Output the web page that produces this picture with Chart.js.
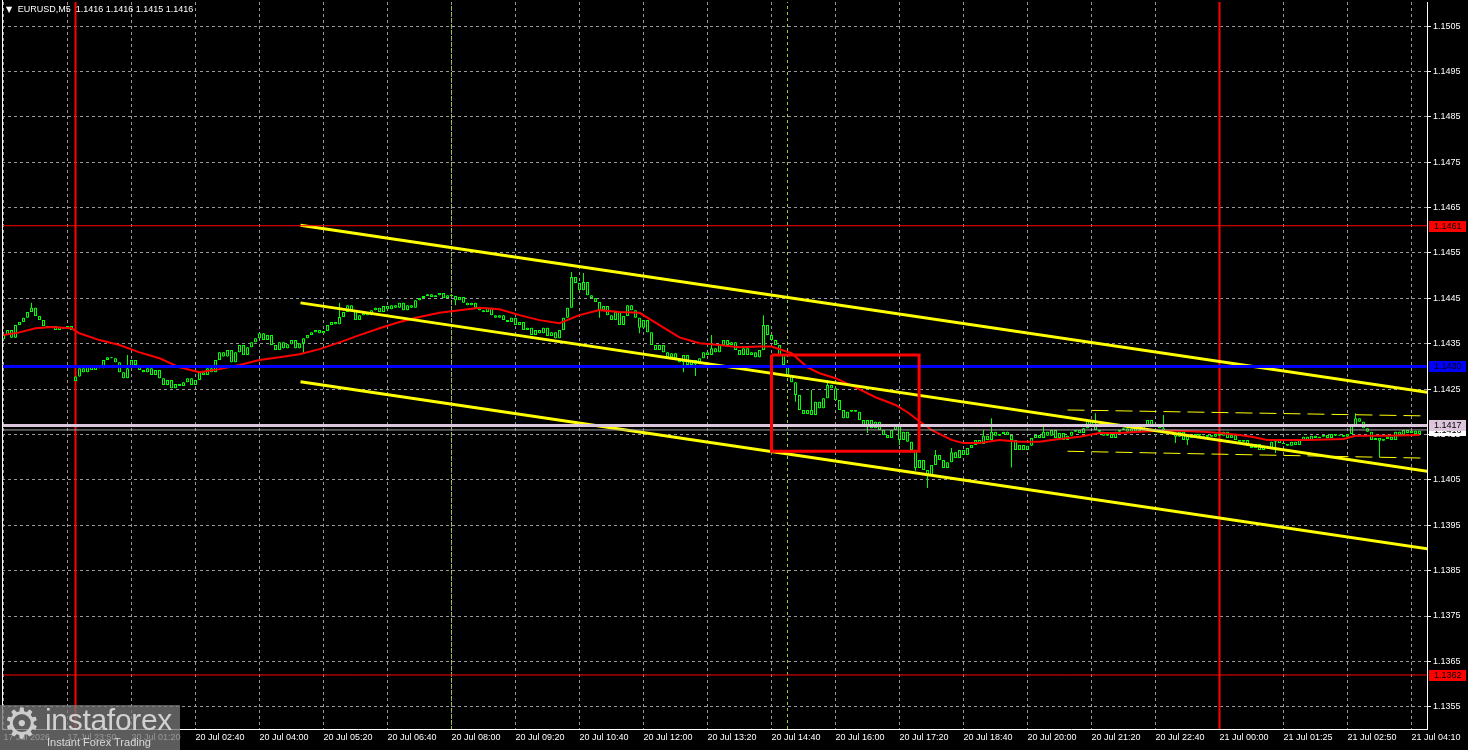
<!DOCTYPE html>
<html>
<head>
<meta charset="utf-8">
<script src="https://cdn.jsdelivr.net/npm/chart.js@4.4.0/dist/chart.umd.min.js"></script>
<style>
html, body { margin: 0; padding: 0; background: #000; overflow: hidden; }
#wrap { position: relative; width: 1468px; height: 750px; }
#header { position: absolute; left: 6px; top: 4px; color: #fff; font: 9px "Liberation Sans", Arial, sans-serif; white-space: pre; }
#header .tri { font: 8px "DejaVu Sans", sans-serif; margin-right: 3px; }
#logo { position: absolute; left: 0; top: 705px; width: 180px; height: 45px; background: rgba(118,118,118,0.78); overflow: hidden; }
#logo .gear { position: absolute; left: 3px; top: -6px; font: 42px "DejaVu Sans", sans-serif; color: rgba(225,225,225,0.85); }
#logo .brand { position: absolute; left: 45px; top: -2px; font: 30px "Liberation Sans", Arial, sans-serif; color: rgba(222,222,222,0.9); letter-spacing: -0.3px; }
#logo .tag { position: absolute; left: 47px; top: 31px; font: 11px "Liberation Sans", Arial, sans-serif; color: rgba(230,230,230,0.9); }
</style>
</head>
<body>
<div id="wrap">
  <canvas id="chart" width="1468" height="750"></canvas>
  <div id="header"><span class="tri">▼</span> EURUSD,M5  1.1416 1.1416 1.1415 1.1416</div>
  <div id="logo"><span class="gear">⚙</span><span class="brand">instaforex</span><span class="tag">Instant Forex Trading</span></div>
</div>
<script>
// M5 closes, bar 0 = 17 Jul 22:30
const closes = [
  1.14369, 1.14380, 1.14363, 1.14391, 1.14398, 1.14407, 1.14420, 1.14429, 1.14411, 1.14402, 1.14389, 1.14385, 1.14389, 1.14380, 1.14387, 1.14383, 1.14389, 1.14380,
  1.14278, 1.14296, 1.14287, 1.14301, 1.14292, 1.14303, 1.14296, 1.14314, 1.14320, 1.14318, 1.14309, 1.14287, 1.14274, 1.14296, 1.14314,
  1.14303, 1.14292, 1.14287, 1.14296, 1.14281, 1.14292, 1.14274, 1.14259, 1.14270, 1.14252, 1.14261, 1.14257, 1.14265, 1.14274, 1.14259, 1.14270, 1.14287,
  1.14281, 1.14296, 1.14287, 1.14314, 1.14331, 1.14322, 1.14336, 1.14309, 1.14331, 1.14347, 1.14325, 1.14342, 1.14353, 1.14362, 1.14373, 1.14358, 1.14369,
  1.14347, 1.14336, 1.14353, 1.14340, 1.14349, 1.14358, 1.14340, 1.14351, 1.14362, 1.14369, 1.14375, 1.14380, 1.14373, 1.14378, 1.14391, 1.14398, 1.14393,
  1.14409, 1.14420, 1.14435, 1.14424, 1.14402, 1.14413, 1.14418, 1.14413, 1.14424, 1.14429, 1.14420, 1.14433, 1.14426, 1.14435, 1.14429, 1.14440, 1.14424,
  1.14435, 1.14429, 1.14446, 1.14451, 1.14455, 1.14459, 1.14453, 1.14457, 1.14462, 1.14451, 1.14457, 1.14455, 1.14446, 1.14453, 1.14440, 1.14435,
  1.14440, 1.14429, 1.14424, 1.14420, 1.14429, 1.14413, 1.14407, 1.14413, 1.14402, 1.14398, 1.14407, 1.14391, 1.14398, 1.14380, 1.14385,
  1.14369, 1.14380, 1.14373, 1.14385, 1.14367, 1.14375, 1.14362, 1.14380, 1.14407, 1.14429, 1.14497, 1.14484, 1.14468, 1.14486, 1.14457, 1.14451, 1.14442,
  1.14424, 1.14433, 1.14413, 1.14402, 1.14420, 1.14391, 1.14411, 1.14435, 1.14424, 1.14407, 1.14385, 1.14402, 1.14375, 1.14347, 1.14336, 1.14347, 1.14331, 1.14320, 1.14329,
  1.14318, 1.14309, 1.14325, 1.14303, 1.14314, 1.14305, 1.14318, 1.14331, 1.14325, 1.14340, 1.14331, 1.14347, 1.14358, 1.14347, 1.14353, 1.14336, 1.14325, 1.14340, 1.14325, 1.14331, 1.14320, 1.14336,
  1.14391, 1.14369, 1.14358, 1.14347, 1.14325, 1.14303, 1.14281, 1.14265, 1.14237, 1.14204, 1.14195, 1.14204, 1.14193, 1.14222, 1.14208, 1.14230, 1.14259, 1.14252, 1.14226, 1.14204,
  1.14186, 1.14200, 1.14204, 1.14200, 1.14182, 1.14171, 1.14182, 1.14164, 1.14178, 1.14160, 1.14149, 1.14142, 1.14160, 1.14171, 1.14138, 1.14156, 1.14134, 1.14116, 1.14076, 1.14094,
  1.14072, 1.14059, 1.14083, 1.14105, 1.14094, 1.14076, 1.14089, 1.14111, 1.14098, 1.14116, 1.14105, 1.14120, 1.14127, 1.14138, 1.14129, 1.14147, 1.14138, 1.14156, 1.14147, 1.14151, 1.14156,
  1.14149, 1.14138, 1.14116, 1.14127, 1.14116, 1.14125, 1.14142, 1.14149, 1.14142, 1.14156, 1.14147, 1.14160, 1.14142, 1.14153, 1.14138, 1.14147, 1.14156, 1.14160, 1.14153, 1.14164, 1.14182, 1.14171,
  1.14160, 1.14156, 1.14147, 1.14151, 1.14142, 1.14156, 1.14160, 1.14164, 1.14156, 1.14164, 1.14156, 1.14160, 1.14171, 1.14182, 1.14169, 1.14173, 1.14164, 1.14156, 1.14160,
  1.14151, 1.14145, 1.14156, 1.14138, 1.14147, 1.14142, 1.14151, 1.14147, 1.14145, 1.14149, 1.14145, 1.14151, 1.14147, 1.14156, 1.14142, 1.14149, 1.14138, 1.14134, 1.14138, 1.14125,
  1.14120, 1.14129, 1.14116, 1.14125, 1.14120, 1.14134, 1.14138, 1.14131, 1.14129, 1.14125, 1.14134, 1.14127, 1.14138, 1.14145, 1.14138, 1.14147, 1.14142, 1.14145, 1.14149, 1.14142, 1.14151, 1.14147,
  1.14149, 1.14145, 1.14151, 1.14171, 1.14186, 1.14178, 1.14164, 1.14156, 1.14138, 1.14142, 1.14136, 1.14140, 1.14145, 1.14138, 1.14156, 1.14149, 1.14160, 1.14153, 1.14158, 1.14151, 1.14158
];
// opens that are not the previous close (session gaps)
const gapOpens = [[0, 1.14360], [18, 1.14268]];
// visible wicks [bar, price]
const wickHighs = [[7, 1.14440], [31, 1.14325], [84, 1.14440], [142, 1.14508], [145, 1.14506], [177, 1.14369], [190, 1.14413],
  [202, 1.14248], [206, 1.14270], [233, 1.14116], [237, 1.14120], [245, 1.14160], [247, 1.14186], [260, 1.14173],
  [273, 1.14197], [290, 1.14193], [338, 1.14197]];
const wickLows = [[75, 1.14329], [113, 1.14435], [149, 1.14407], [159, 1.14373], [170, 1.14287], [173, 1.14279], [198, 1.14222],
  [216, 1.14153], [224, 1.14127], [228, 1.14070], [231, 1.14032], [252, 1.14077], [293, 1.14131], [296, 1.14127],
  [318, 1.14109], [344, 1.14100]];

// red moving average [bar, price]
const maPoints = [[0, 1.14369], [4, 1.14375], [8, 1.14384], [12, 1.14387], [17, 1.14384], [19, 1.14373], [24, 1.14358], [29, 1.14347],
  [34, 1.14331], [39, 1.14318], [44, 1.14298], [49, 1.14287], [54, 1.14294], [59, 1.14303], [64, 1.14314], [69, 1.14320],
  [74, 1.14327], [79, 1.14338], [84, 1.14353], [89, 1.14369], [94, 1.14384], [99, 1.14398], [104, 1.14409], [109, 1.14418],
  [114, 1.14424], [119, 1.14429], [124, 1.14426], [129, 1.14413], [134, 1.14402], [139, 1.14395], [144, 1.14413], [149, 1.14424],
  [154, 1.14420], [159, 1.14418], [164, 1.14391], [169, 1.14364], [174, 1.14351], [179, 1.14347], [184, 1.14342], [189, 1.14344],
  [192, 1.14344], [197, 1.14329], [201, 1.14298], [204, 1.14285], [208, 1.14274], [213, 1.14254], [218, 1.14232], [223, 1.14215],
  [226, 1.14199], [229, 1.14179], [232, 1.14160], [237, 1.14138], [240, 1.14131], [244, 1.14131], [249, 1.14138], [254, 1.14134],
  [259, 1.14134], [264, 1.14140], [269, 1.14145], [274, 1.14153], [279, 1.14153], [284, 1.14156], [289, 1.14158], [294, 1.14158],
  [300, 1.14156], [304, 1.14153], [309, 1.14149], [312, 1.14145], [316, 1.14138], [321, 1.14138], [326, 1.14138], [335, 1.14140],
  [338, 1.14147], [345, 1.14147], [354, 1.14149]];

// regression channel
const channelBars = [74.25, 356];
const channelUpper = [1.14611, 1.14243];
const channelMiddle = [1.14440, 1.14069];
const channelLower = [1.14266, 1.13898];
// dashed deviation band
const bandBars = [266, 355];
const bandUpper = [1.14204, 1.14191];
const bandLower = [1.14113, 1.14098];

// horizontal levels
const levelPrices = [1.1461, 1.1430, 1.1417, 1.1362];
const bidPrice = 1.14160;
// red box
const boxBars = [192, 228.9];
const boxPrices = [1.14325, 1.14113];
const daySeparators = [18, 304];
const eventMarks = [112, 196];

const priceTicks = [1.1355, 1.1365, 1.1375, 1.1385, 1.1395, 1.1405, 1.1415, 1.1425, 1.1435, 1.1445, 1.1455, 1.1465, 1.1475, 1.1485, 1.1495, 1.1505];
const timeTicks = [0, 16, 32, 48, 64, 80, 96, 112, 128, 144, 160, 176, 192, 208, 224, 240, 256, 272, 288, 304, 320, 336, 352];
const timeLabels = ['17 Jul 2026', '17 Jul 23:50', '20 Jul 01:20', '20 Jul 02:40', '20 Jul 04:00', '20 Jul 05:20', '20 Jul 06:40',
  '20 Jul 08:00', '20 Jul 09:20', '20 Jul 10:40', '20 Jul 12:00', '20 Jul 13:20', '20 Jul 14:40', '20 Jul 16:00', '20 Jul 17:20',
  '20 Jul 18:40', '20 Jul 20:00', '20 Jul 21:20', '20 Jul 22:40', '21 Jul 00:00', '21 Jul 01:25', '21 Jul 02:50', '21 Jul 04:10'];

const xMin = -0.375, xMax = 355.875;
const yMin = 1.13501, yMax = 1.15103;
const FONT = '"Liberation Sans", Arial, sans-serif';

// build candles
const opens = closes.map((c, i) => i > 0 ? closes[i - 1] : c);
gapOpens.forEach(([i, p]) => { opens[i] = p; });
const highs = closes.map((c, i) => Math.max(c, opens[i]));
const lows = closes.map((c, i) => Math.min(c, opens[i]));
wickHighs.forEach(([i, p]) => { highs[i] = Math.max(highs[i], p); });
wickLows.forEach(([i, p]) => { lows[i] = Math.min(lows[i], p); });

const bodies = closes.map((c, i) => ({ x: i, y: [opens[i], c] }));
const wicks = closes.map((c, i) => ({ x: i, y: [lows[i], highs[i]] }));

const seg = (xs, ys) => xs.map((x, k) => ({ x: x, y: ys[k] }));
const lineDs = (data, color, width, order, dash) => ({
  type: 'line', data: data, borderColor: color, borderWidth: width, borderDash: dash || [],
  pointRadius: 0, fill: false, tension: 0, order: order
});

const datasets = [
  lineDs(seg([boxBars[0], boxBars[1], boxBars[1], boxBars[0], boxBars[0]],
             [boxPrices[0], boxPrices[0], boxPrices[1], boxPrices[1], boxPrices[0]]), '#ff0000', 3, 0),
  lineDs(seg([xMin, xMax], [levelPrices[0], levelPrices[0]]), '#ff0000', 1, 1),
  lineDs(seg([xMin, xMax], [levelPrices[1], levelPrices[1]]), '#0000ff', 3, 1),
  lineDs(seg([xMin, xMax], [levelPrices[2], levelPrices[2]]), '#dcc6dc', 3, 1),
  lineDs(seg([xMin, xMax], [bidPrice, bidPrice]), '#a8a8a8', 1, 1),
  lineDs(seg([xMin, xMax], [levelPrices[3], levelPrices[3]]), '#ff0000', 1, 1),
  lineDs(seg(channelBars, channelUpper), '#ffff00', 3, 2),
  lineDs(seg(channelBars, channelMiddle), '#ffff00', 3, 2),
  lineDs(seg(channelBars, channelLower), '#ffff00', 3, 2),
  lineDs(seg(bandBars, bandUpper), '#ffff00', 1, 2, [17, 7]),
  lineDs(seg(bandBars, bandLower), '#ffff00', 1, 2, [17, 7]),
  lineDs(maPoints.map(([x, y]) => ({ x: x, y: y })), '#ff0000', 2, 3),
  {
    type: 'bar', data: bodies, backgroundColor: '#000000', borderColor: '#00ff00', borderWidth: 1,
    borderSkipped: false, grouped: false, barPercentage: 0.75, categoryPercentage: 1, minBarLength: 1, order: 4
  },
  {
    type: 'bar', data: wicks, backgroundColor: '#00ff00', borderWidth: 0,
    grouped: false, barPercentage: 0.25, categoryPercentage: 1, minBarLength: 1, order: 5
  }
];
daySeparators.forEach(b => datasets.push(lineDs(seg([b, b], [yMin, yMax]), '#ff0000', 2, 6)));
eventMarks.forEach(b => datasets.push(lineDs(seg([b, b], [yMin, yMax]), '#9acd32', 1, 7, [3, 3])));

// price tags on the right axis
const priceTags = {
  id: 'priceTags',
  afterDraw(chart) {
    const { ctx, chartArea, scales } = chart;
    const y = scales.y;
    ctx.save();
    ctx.strokeStyle = '#ffffff';
    ctx.lineWidth = 1;
    ctx.beginPath();
    ctx.moveTo(chartArea.left + 0.5, 0);
    ctx.lineTo(chartArea.left + 0.5, chartArea.bottom);
    ctx.stroke();
    const tags = [
      [bidPrice, '#ffffff', '1.1416'],
      [levelPrices[2], '#dcc6dc', '1.1417'],
      [levelPrices[0], '#ff0000', '1.1461'],
      [levelPrices[1], '#0000ff', '1.1430'],
      [levelPrices[3], '#ff0000', '1.1362']
    ];
    ctx.font = '9px ' + FONT;
    ctx.textBaseline = 'middle';
    tags.forEach(([p, bg, txt]) => {
      const py = Math.round(y.getPixelForValue(p));
      ctx.fillStyle = bg;
      ctx.fillRect(chartArea.right + 2, py - 5, 37, 11);
      ctx.fillStyle = '#000000';
      ctx.fillText(txt, chartArea.right + 7, py + 1);
    });
    ctx.restore();
  }
};

new Chart(document.getElementById('chart').getContext('2d'), {
  type: 'bar',
  data: { datasets: datasets },
  options: {
    responsive: false,
    animation: false,
    devicePixelRatio: 1,
    events: [],
    layout: { padding: { left: 2, top: 2, right: 0, bottom: 0 } },
    plugins: { legend: { display: false }, tooltip: { enabled: false } },
    scales: {
      x: {
        type: 'linear', min: xMin, max: xMax, offset: false,
        afterBuildTicks: s => { s.ticks = timeTicks.map(v => ({ value: v })); },
        afterFit: s => { s.height = 21; s.paddingLeft = 0; s.paddingRight = 0; },
        grid: { color: '#9a9a9a', lineWidth: 1, drawTicks: false, offset: false },
        border: { display: true, color: '#ffffff', width: 1, dash: [3, 3] },
        ticks: {
          color: '#ffffff', font: { family: FONT, size: 9 }, align: 'start', padding: 3,
          maxRotation: 0, minRotation: 0, autoSkip: false,
          callback: (v, i) => timeLabels[i]
        }
      },
      y: {
        position: 'right', min: yMin, max: yMax,
        afterBuildTicks: s => { s.ticks = priceTicks.map(v => ({ value: v })); },
        afterFit: s => { s.width = 41; s.paddingTop = 0; s.paddingBottom = 0; },
        grid: { color: '#9a9a9a', lineWidth: 1, tickLength: 4, tickColor: '#ffffff' },
        border: { display: true, color: '#ffffff', width: 1, dash: [3, 3] },
        ticks: {
          color: '#ffffff', font: { family: FONT, size: 9 }, padding: 2,
          callback: v => v.toFixed(4)
        }
      }
    }
  },
  plugins: [priceTags]
});
</script>
</body>
</html>
